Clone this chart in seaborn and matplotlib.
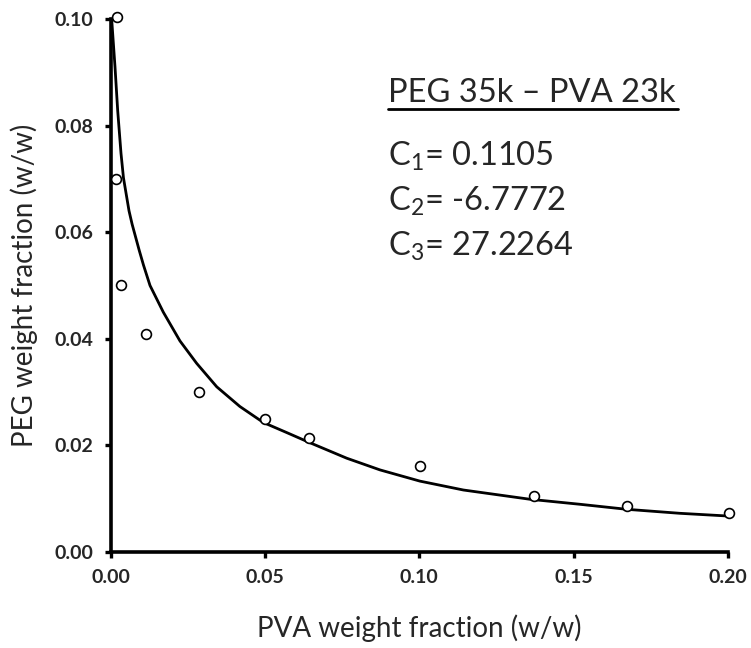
import matplotlib
matplotlib.use("Agg")
import matplotlib.pyplot as plt
import seaborn as sns
import pandas as pd
from matplotlib.lines import Line2D

# ---- data ----
pva_exp = [0.0020, 0.0019, 0.0034, 0.0114, 0.0287, 0.0500, 0.0643, 0.1002, 0.1371, 0.1673, 0.2003]
peg_exp = [0.1003, 0.0699, 0.0501, 0.0409, 0.0301, 0.0250, 0.0213, 0.0162, 0.0106, 0.0086, 0.0074]

curve_x = [0.0004, 0.00146, 0.00233, 0.0034, 0.0042, 0.0060, 0.0070, 0.0093, 0.0107, 0.0128,
           0.0171, 0.0225, 0.0279, 0.0344, 0.0419, 0.0495, 0.0571, 0.0646, 0.0765,
           0.0873, 0.1002, 0.1143, 0.1359, 0.1521, 0.1672, 0.1844, 0.2000]
curve_y = [0.0998, 0.0910, 0.0828, 0.0748, 0.0702, 0.0640, 0.0615, 0.0566, 0.0538, 0.0500,
           0.0450, 0.0396, 0.0354, 0.0310, 0.0273, 0.0243, 0.0224, 0.0205, 0.0176,
           0.0154, 0.0133, 0.01163, 0.00989, 0.00895, 0.00801, 0.00726, 0.00675]

x_ticks = [0.00, 0.05, 0.10, 0.15, 0.20]
y_ticks = [0.00, 0.02, 0.04, 0.06, 0.08, 0.10]
title_txt = "PEG 35k \u2013 PVA 23k"
param_lines = ["C$_1$= 0.1105", "C$_2$= -6.7772", "C$_3$= 27.2264"]

sns.set_theme(style="white")
plt.rcParams["font.family"] = ["Lato", "DejaVu Sans"]
plt.rcParams["mathtext.fontset"] = "custom"
plt.rcParams["mathtext.rm"] = "Lato"
plt.rcParams["mathtext.it"] = "Lato:italic"
plt.rcParams["mathtext.bf"] = "Lato:bold"

W, H = 751, 648
fig = plt.figure(figsize=(W / 100, H / 100), dpi=100)
ax = fig.add_axes([110.5 / W, 1 - 552 / H, 617.5 / W, 533 / H])

df_curve = pd.DataFrame({"x": curve_x, "y": curve_y})
df_exp = pd.DataFrame({"x": pva_exp, "y": peg_exp})

sns.lineplot(data=df_curve, x="x", y="y", ax=ax, color="black", lw=2.0,
             sort=False, estimator=None)
sns.scatterplot(data=df_exp, x="x", y="y", ax=ax, marker="o", s=50,
                facecolor="white", edgecolor="black", linewidth=1.2,
                clip_on=False, zorder=5)

ax.set_xlim(0, 0.2)
ax.set_ylim(0, 0.1)
ax.set_xticks(x_ticks)
ax.set_yticks(y_ticks)
ax.set_xticklabels([f"{v:.2f}" for v in x_ticks], fontweight="bold", fontsize=14)
ax.set_yticklabels([f"{v:.2f}" for v in y_ticks], fontweight="bold", fontsize=14)
ax.tick_params(axis="both", direction="out", length=4.5, width=2.4, color="black",
               bottom=True, left=True)
ax.tick_params(axis="x", pad=8)
ax.tick_params(axis="y", pad=8)

for side in ["top", "right"]:
    ax.spines[side].set_visible(False)
for side in ["left", "bottom"]:
    ax.spines[side].set_linewidth(2.6)
    ax.spines[side].set_color("black")

ax.set_xlabel("PVA weight fraction (w/w)", fontsize=20, labelpad=20)
ax.set_ylabel("PEG weight fraction (w/w)", fontsize=20, labelpad=12)

# annotation block
tx = 388 / W
fig.text(tx, 1 - 92.7 / H, title_txt, fontsize=23.5, va="center", ha="left")
fig.add_artist(Line2D([388 / W, 678 / W], [1 - 109 / H, 1 - 109 / H],
                      color="black", lw=2.0, transform=fig.transFigure))
for i, t in enumerate(param_lines):
    fig.text(tx, 1 - (156.7 + 45 * i) / H, t, fontsize=23.5, va="center", ha="left")

fig.savefig("out.png", dpi=100)
